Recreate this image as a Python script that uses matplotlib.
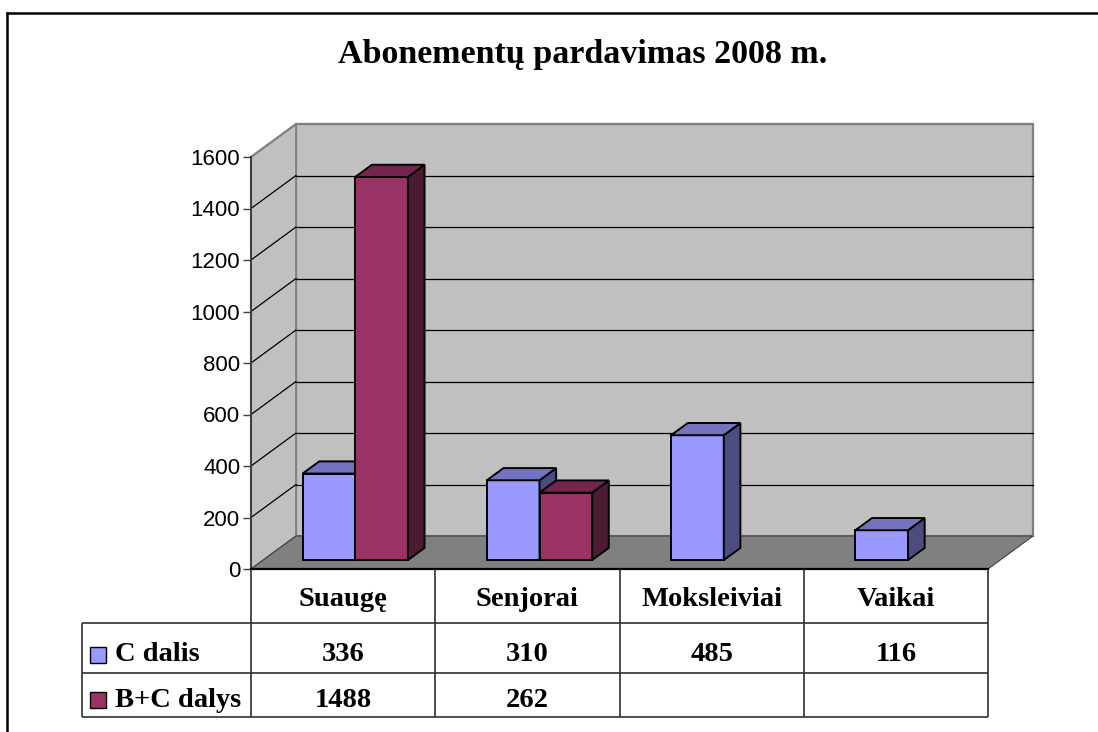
import matplotlib
matplotlib.use("Agg")
import matplotlib.pyplot as plt
from matplotlib.patches import Polygon, Rectangle
from matplotlib.lines import Line2D

# ---------------- data ----------------
title = "Abonementų pardavimas 2008 m."
categories = ["Suaugę", "Senjorai", "Moksleiviai", "Vaikai"]
series_names = ["C dalis", "B+C dalys"]
c_dalis = [336, 310, 485, 116]
bc_dalys = [1488, 262, None, None]
yticks = [0, 200, 400, 600, 800, 1000, 1200, 1400, 1600]

# ---------------- style ----------------
front_cols = ["#9999FF", "#993366"]
top_cols = ["#7373BF", "#73264D"]
side_cols = ["#4C4C80", "#4D1A33"]
wall_col = "#C0C0C0"
floor_col = "#808080"
serif = ["Liberation Serif", "DejaVu Serif"]
sans = ["Liberation Sans", "DejaVu Sans"]

W, H = 1098, 732
fig = plt.figure(figsize=(W / 100, H / 100), dpi=100)
fig.patch.set_facecolor("white")

# main plot axes (front plane)
ax = fig.add_axes([251 / W, (H - 569) / H, 737 / W, 412 / H])
ax.set_xlim(0, len(categories))
ax.set_ylim(0, yticks[-1])
ax.patch.set_alpha(0)

# depth offsets in data units
DX, DY = 0.244, 128.0
Z0, Z1 = 0.27, 0.64
BW = 1 / 3.5
GAP = 0.75 * BW
NC = len(categories)
YMAX = yticks[-1]


def P(x, y, z):
    return (x + z * DX, y + z * DY)


def poly(pts, fc, ec, lw, z, ax_=ax):
    p = Polygon(pts, closed=True, facecolor=fc, edgecolor=ec, linewidth=lw,
                zorder=z, clip_on=False, joinstyle="miter")
    ax_.add_patch(p)


# back wall
poly([P(0, 0, 1), P(NC, 0, 1), P(NC, YMAX, 1), P(0, YMAX, 1)], wall_col, "#808080", 1.6, 1)
# left wall
poly([P(0, 0, 0), P(0, 0, 1), P(0, YMAX, 1), P(0, YMAX, 0)], wall_col, "#808080", 1.2, 1)
# floor
poly([P(0, 0, 0), P(NC, 0, 0), P(NC, 0, 1), P(0, 0, 1)], floor_col, "#404040", 0.8, 1.1)

# gridlines
for v in yticks[1:-1]:
    a, b = P(0, v, 1), P(NC, v, 1)
    ax.add_line(Line2D([a[0], b[0]], [a[1], b[1]], color="black", lw=0.9, zorder=1.5, clip_on=False))
    c = P(0, v, 0)
    ax.add_line(Line2D([c[0], a[0]], [c[1], a[1]], color="black", lw=0.9, zorder=1.5, clip_on=False))
# wall top edges in grey
a, b = P(0, YMAX, 1), P(NC, YMAX, 1)
ax.add_line(Line2D([a[0], b[0]], [a[1], b[1]], color="#808080", lw=1.5, zorder=1.6, clip_on=False))
c = P(0, YMAX, 0)
ax.add_line(Line2D([c[0], a[0]], [c[1], a[1]], color="#808080", lw=1.5, zorder=1.6, clip_on=False))

# bars
series = [c_dalis, bc_dalys]
zb = 3
for i in range(NC):
    for s, vals in enumerate(series):
        v = vals[i]
        if v is None:
            continue
        x0 = i + GAP + s * BW
        x1 = x0 + BW
        poly([P(x0, 0, Z0), P(x1, 0, Z0), P(x1, v, Z0), P(x0, v, Z0)], front_cols[s], "black", 1.4, zb)
        poly([P(x1, 0, Z0), P(x1, 0, Z1), P(x1, v, Z1), P(x1, v, Z0)], side_cols[s], "black", 1.4, zb)
        poly([P(x0, v, Z0), P(x1, v, Z0), P(x1, v, Z1), P(x0, v, Z1)], top_cols[s], "black", 1.4, zb)
        zb += 0.1

# axes styling
ax.set_xticks([])
ax.set_yticks(yticks)
ax.set_yticklabels([str(t) for t in yticks], fontfamily=sans, fontsize=16)
ax.tick_params(axis="y", length=5.8, width=1.0, color="#404040", pad=2)
for sp in ["top", "right"]:
    ax.spines[sp].set_visible(False)
ax.spines["left"].set_color("#404040")
ax.spines["left"].set_linewidth(1.5)
ax.spines["bottom"].set_color("black")
ax.spines["bottom"].set_linewidth(1.6)
ax.spines["left"].set_zorder(2)
ax.spines["bottom"].set_zorder(2)

# ---------------- data table ----------------
LEFT = -(251 - 82) / 184.25
ax_t = fig.add_axes([82 / W, (H - 717) / H, (988 - 82) / W, (717 - 569) / H])
ax_t.set_xlim(LEFT, NC)
ax_t.set_ylim(148, 0)
ax_t.axis("off")
row_lines = [54, 104, 148]
lc = "#303030"
for y in row_lines:
    ax_t.hlines(y, LEFT, NC, color=lc, lw=1.2, clip_on=False)
ax_t.vlines(LEFT, row_lines[0], row_lines[-1], color=lc, lw=1.2, clip_on=False)
for k in range(NC + 1):
    ax_t.vlines(k, 0, row_lines[-1], color=lc, lw=1.2, clip_on=False)

txt_kw = dict(fontfamily=serif, fontweight="bold", fontsize=20.5, va="baseline", ha="center")
for i, cat in enumerate(categories):
    ax_t.text(i + 0.5, 37, cat, **txt_kw)
row_base = [92, 138]
row_mid = [86, 131]
for s, vals in enumerate(series):
    for i, v in enumerate(vals):
        if v is not None:
            ax_t.text(i + 0.5, row_base[s], str(v), **txt_kw)
    sx = LEFT + 8 / 184.25
    ax_t.add_patch(Rectangle((sx, row_mid[s] - 8), 16 / 184.25, 16, facecolor=front_cols[s],
                             edgecolor="black", lw=1.0, clip_on=False))
    ax_t.text(LEFT + 33 / 184.25, row_base[s], series_names[s], fontfamily=serif,
              fontweight="bold", fontsize=20.5, va="baseline", ha="left")

# ---------------- title & border ----------------
fig.text(583 / W, (H - 63) / H, title, ha="center", va="baseline",
         fontfamily=serif, fontweight="bold", fontsize=24.5)
fig.add_artist(Line2D([7 / W, 7 / W], [0, (H - 13) / H], color="black", lw=1.8))
fig.add_artist(Line2D([7 / W, 1], [(H - 13) / H, (H - 13) / H], color="black", lw=1.8))

fig.savefig("out.png", dpi=100)
